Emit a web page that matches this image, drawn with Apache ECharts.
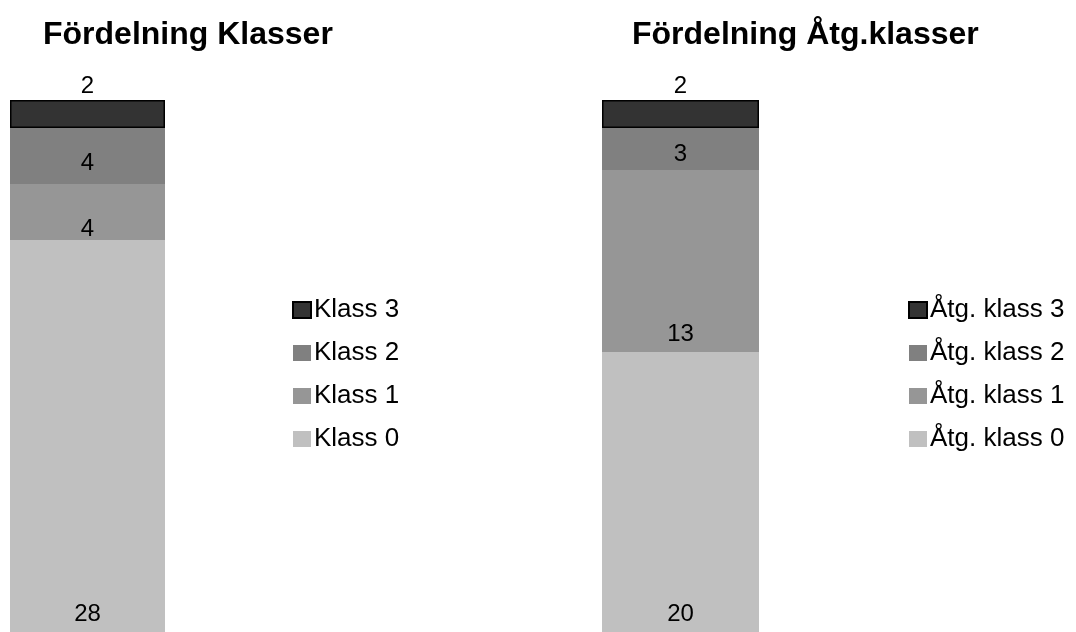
<!DOCTYPE html>
<html>
<head>
<meta charset="utf-8">
<script src="https://cdn.jsdelivr.net/npm/echarts@6/dist/echarts.min.js"></script>
<style>
  html, body { margin: 0; padding: 0; background: #ffffff; }
  #chart { width: 1076px; height: 632px; }
</style>
</head>
<body>
<div id="chart"></div>
<script>
  // data
  const klassNames = ['Klass 0', 'Klass 1', 'Klass 2', 'Klass 3'];
  const klassValues = [28, 4, 4, 2];
  const atgNames = ['Åtg. klass 0', 'Åtg. klass 1', 'Åtg. klass 2', 'Åtg. klass 3'];
  const atgValues = [20, 13, 3, 2];
  const titles = ['Fördelning Klasser', 'Fördelning Åtg.klasser'];

  const colors = ['#c0c0c0', '#969696', '#808080', '#333333'];
  const font = "'Liberation Sans', Arial, sans-serif";
  // label distance above segment bottom (Excel puts them oddly)
  const leftDist = [6, -1, 9, 2];
  const rightDist = [6, 6, 4, 2];

  function makeSeries(names, values, idx, dists) {
    return names.map(function (n, i) {
      const top = i === names.length - 1;
      return {
        name: n,
        type: 'bar',
        stack: 's' + idx,
        xAxisIndex: idx,
        yAxisIndex: idx,
        barWidth: '100%',
        data: [values[i]],
        itemStyle: {
          color: colors[i],
          borderColor: top ? '#000000' : colors[i],
          borderWidth: top ? 1.5 : 0
        },
        label: {
          show: true,
          position: top ? 'top' : 'insideBottom',
          distance: dists[i],
          color: '#000',
          fontSize: 24,
          fontFamily: font
        }
      };
    });
  }

  function makeLegend(names, x) {
    return {
      data: names.slice().reverse(),
      orient: 'vertical', left: x, top: 292,
      itemWidth: 18, itemHeight: 16, itemGap: 17,
      icon: 'rect',
      selectedMode: false,
      textStyle: { fontSize: 26, color: '#000', fontFamily: font, padding: [0, 0, 0, -2] }
    };
  }

  let myChart = echarts.init(document.getElementById('chart'));
  myChart.setOption({
    animation: false,
    backgroundColor: '#ffffff',
    title: [
      { text: titles[0], left: 38, top: 14,
        textStyle: { fontSize: 32, fontWeight: 'bold', color: '#000', fontFamily: font } },
      { text: titles[1], left: 627, top: 14,
        textStyle: { fontSize: 32, fontWeight: 'bold', color: '#000', fontFamily: font } }
    ],
    legend: [makeLegend(klassNames, 287), makeLegend(atgNames, 903)],
    grid: [
      { left: 10, width: 155, top: 100, height: 542 },
      { left: 602, width: 157, top: 100, height: 542 }
    ],
    xAxis: [
      { type: 'category', gridIndex: 0, data: [''], show: false },
      { type: 'category', gridIndex: 1, data: [''], show: false }
    ],
    yAxis: [
      { type: 'value', gridIndex: 0, min: 0, max: 38, show: false },
      { type: 'value', gridIndex: 1, min: 0, max: 38, show: false }
    ],
    series: makeSeries(klassNames, klassValues, 0, leftDist)
      .concat(makeSeries(atgNames, atgValues, 1, rightDist))
  });
</script>
</body>
</html>
